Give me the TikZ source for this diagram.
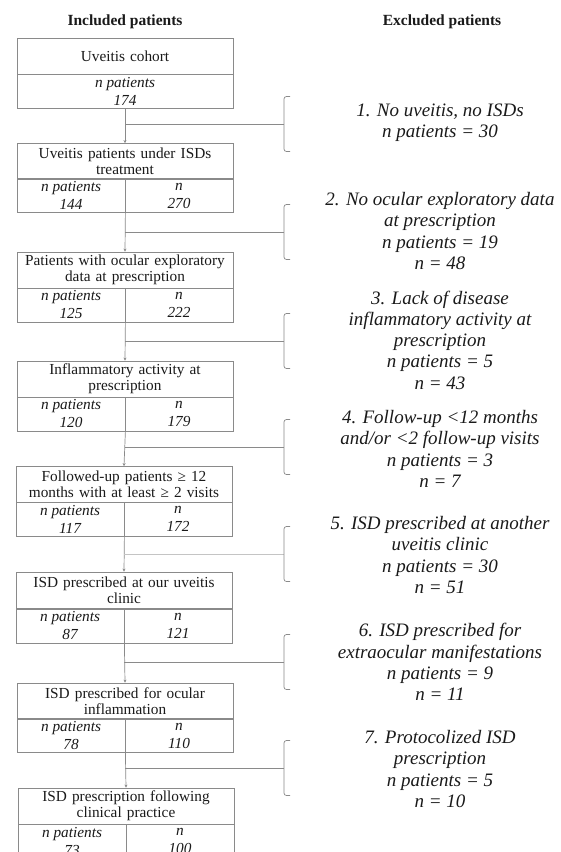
\documentclass[tikz,border=0pt]{standalone}
\usepackage{fontspec}
\setmainfont{Liberation Serif}
\usetikzlibrary{arrows.meta}
\definecolor{linegray}{HTML}{8A8A8A}
\definecolor{lightline}{HTML}{C4C4C4}
\definecolor{txt}{HTML}{1A1A1A}
\begin{document}
\begin{tikzpicture}[x=1pt,y=-1pt,
 headbox/.style={draw=linegray, line width=0.8pt, minimum width=216pt, minimum height=36pt, inner sep=0pt, text width=214pt, align=center, font=\fontsize{15.3}{15.8}\selectfont, text=txt},
 cellbox/.style={draw=linegray, line width=0.8pt, minimum width=108pt, minimum height=34pt, inner sep=0pt, align=center, font=\fontsize{15.3}{18}\selectfont\itshape, text=txt},
 widecell/.style={cellbox, minimum width=216pt},
 conn/.style={draw=linegray, line width=0.7pt, -{Stealth[length=3pt,width=3pt]}},
 branch/.style={draw=linegray, line width=0.7pt},
 brk/.style={draw=linegray, line width=0.7pt, rounded corners=2.5pt},
 exclabel/.style={align=center, font=\fontsize{19}{21.3}\selectfont\itshape, text=txt},
 title/.style={font=\fontsize{15.5}{17}\selectfont\bfseries, text=txt},
 excbracket/.pic={\draw[brk] (6,-27.5) -- (0,-27.5) -- (0,27.5) -- (6,27.5);}]
\useasboundingbox (0,0) rectangle (560,852);
\clip (0,0) rectangle (560,852);
\fill[white] (0,0) rectangle (560,852);

% titles
\node[title] (tinc) at (125,22) {Included patients};
\node[title] (texc) at (442,22) {Excluded patients};

% box 1
\node[headbox] (h1) at (125,56) {Uveitis cohort};
\node[widecell] (c1) at (125,91) {n patients\\174};
% box 2
\node[headbox] (h2) at (125,161.5) {Uveitis patients under ISDs\\treatment};
\node[cellbox] (l2) at (71,195.5) {n patients\\144};
\node[cellbox] (r2) at (179,195.5) {n\\270};
% box 3
\node[headbox] (h3) at (125,270) {Patients with ocular exploratory\\data at prescription};
\node[cellbox] (l3) at (71,305) {n patients\\125};
\node[cellbox] (r3) at (179,305) {n\\222};
% box 4
\node[headbox] (h4) at (125,379) {Inflammatory activity at\\prescription};
\node[cellbox] (l4) at (71,414) {n patients\\120};
\node[cellbox] (r4) at (179,414) {n\\179};
% box 5
\node[headbox] (h5) at (124,484.5) {Followed-up patients ≥ 12\\months with at least ≥ 2 visits};
\node[cellbox] (l5) at (70,519) {n patients\\117};
\node[cellbox] (r5) at (178,519) {n\\172};
% box 6
\node[headbox] (h6) at (124,590) {ISD prescribed at our uveitis\\clinic};
\node[cellbox] (l6) at (70,626) {n patients\\87};
\node[cellbox] (r6) at (178,626) {n\\121};
% box 7
\node[headbox] (h7) at (125,701) {ISD prescribed for ocular\\inflammation};
\node[cellbox] (l7) at (71,735.5) {n patients\\78};
\node[cellbox] (r7) at (179,735.5) {n\\110};
% box 8
\node[headbox] (h8) at (126,806) {ISD prescription following\\clinical practice};
\node[cellbox] (l8) at (72,841) {n patients\\73};
\node[cellbox] (r8) at (180,841) {n\\100};

% connectors
\draw[conn] (c1.south) -- (h2.north);
\draw[conn] (l2.south east) -- (h3.north);
\draw[conn] (l3.south east) -- (h4.north);
\draw[conn] (l4.south east) -- (h5.north);
\draw[conn] (l5.south east) -- (h6.north);
\draw[conn] (l6.south east) -- (h7.north);
\draw[conn] (l7.south east) -- (h8.north);

% branch points and brackets
\coordinate (j1) at (125,124);   \coordinate (k1) at (284,124);
\coordinate (j2) at (125,232);   \coordinate (k2) at (284,232);
\coordinate (j3) at (125,341);   \coordinate (k3) at (284,341);
\coordinate (j4) at (125,447);   \coordinate (k4) at (284,447);
\coordinate (j5) at (124,554);   \coordinate (k5) at (284,554);
\coordinate (j6) at (124,662);   \coordinate (k6) at (284,662);
\coordinate (j7) at (125,768);   \coordinate (k7) at (284,768);
\draw[branch] (j1) -- (k1);
\draw[branch] (j2) -- (k2);
\draw[branch] (j3) -- (k3);
\draw[branch] (j4) -- (k4);
\draw[branch, draw=lightline] (j5) -- (k5);
\draw[branch] (j6) -- (k6);
\draw[branch] (j7) -- (k7);
\pic at (k1) {excbracket};
\pic at (k2) {excbracket};
\pic at (k3) {excbracket};
\pic at (k4) {excbracket};
\pic at (k5) {excbracket};
\pic at (k6) {excbracket};
\pic at (k7) {excbracket};

% exclusion labels
\node[exclabel] (e1) at (440,123) {1. No uveitis, no ISDs\\n patients = 30};
\node[exclabel] (e2) at (440,231) {2. No ocular exploratory data\\at prescription\\n patients = 19\\n = 48};
\node[exclabel] (e3) at (440,340) {3. Lack of disease\\inflammatory activity at\\prescription\\n patients = 5\\n = 43};
\node[exclabel] (e4) at (440,449) {4. Follow-up <12 months\\and/or <2 follow-up visits\\n patients = 3\\n = 7};
\node[exclabel] (e5) at (440,555) {5. ISD prescribed at another\\uveitis clinic\\n patients = 30\\n = 51};
\node[exclabel] (e6) at (440,662) {6. ISD prescribed for\\extraocular manifestations\\n patients = 9\\n = 11};
\node[exclabel] (e7) at (440,769) {7. Protocolized ISD\\prescription\\n patients = 5\\n = 10};
\end{tikzpicture}
\end{document}
